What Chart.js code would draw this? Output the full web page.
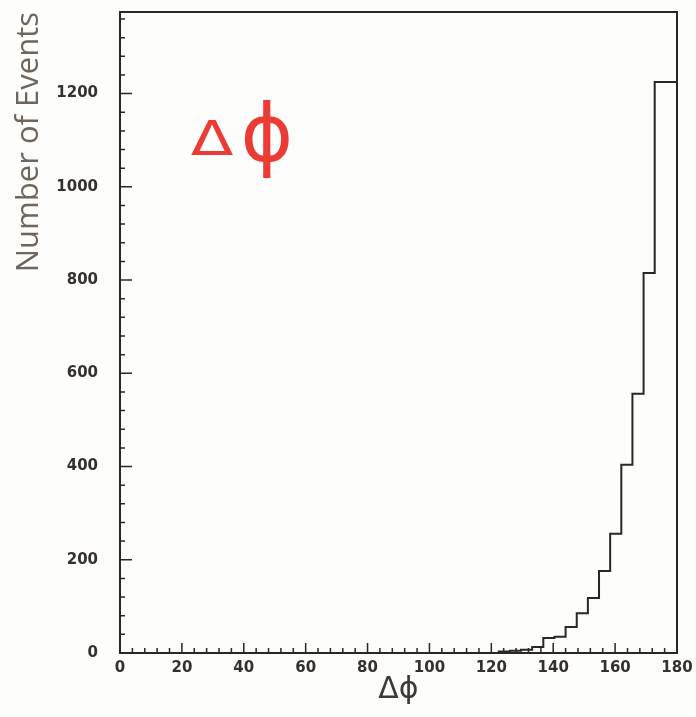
<!DOCTYPE html>
<html>
<head>
<meta charset="utf-8">
<script src="https://cdn.jsdelivr.net/npm/chart.js@4"></script>
<style>
  body { margin: 0; background: #fdfdfb; }
  #wrap { width: 696px; height: 717px; position: relative; }
</style>
</head>
<body>
<div id="wrap"><canvas id="histo"></canvas></div>
<script>
// histogram of delta phi, 50 bins of 3.6 degrees from 0 to 180
var binWidth = 3.6;
var counts = [
    0, 0, 0, 0, 0, 0, 0, 0, 0, 0,
    0, 0, 0, 0, 0, 0, 0, 0, 0, 0,
    0, 0, 0, 0, 0, 0, 0, 0, 0, 0,
    0, 0, 0, 0, 0, 3, 5, 7, 13, 32,
    35, 56, 85, 118, 176, 256, 404, 556, 815, 1225
];
var xTicks = [0, 20, 40, 60, 80, 100, 120, 140, 160, 180];
var yTicks = [0, 200, 400, 600, 800, 1000, 1200];

var ink = '#2b2620';

// step outline points: left edge of each bin, then close at 180
var steps = counts.map(function (c, i) {
    return { x: +(i * binWidth).toFixed(1), y: c };
});
steps.push({ x: 180, y: counts[counts.length - 1] });
steps.push({ x: 180, y: 0 });

// frame, inward major/minor ticks and the red note
var frameTicks = {
    id: 'frameTicks',
    afterDraw: function (chart) {
        var c = chart.ctx, a = chart.chartArea;
        var xs = chart.scales.x, ys = chart.scales.y;
        c.save();
        c.strokeStyle = ink;
        c.lineWidth = 2;
        c.strokeRect(a.left, a.top, a.right - a.left, a.bottom - a.top);
        c.lineWidth = 1.5;
        c.beginPath();
        for (var v = 4; v < 180; v += 4) {
            var px = xs.getPixelForValue(v);
            var len = v % 20 === 0 ? 10 : 5;
            c.moveTo(px, a.bottom);
            c.lineTo(px, a.bottom - len);
        }
        for (var w = 40; w < ys.max; w += 40) {
            var py = ys.getPixelForValue(w);
            var l2 = w % 200 === 0 ? 12 : 5;
            c.moveTo(a.left, py);
            c.lineTo(a.left + l2, py);
        }
        c.stroke();

        c.fillStyle = '#ec3a35';
        c.textBaseline = 'middle';
        c.textAlign = 'center';
        c.save();
        c.translate(212, 143);
        c.scale(1.3, 1);
        c.font = '48px "DejaVu Sans"';
        c.fillText('\u0394', 0, 0);
        c.restore();
        c.font = '80px "DejaVu Sans"';
        c.fillText('\u03d5', 267, 140);
        c.restore();
    }
};

var histo = new Chart(document.getElementById('histo').getContext('2d'), {
    type: 'line',
    data: {
        datasets: [{
            label: 'Events',
            data: steps,
            stepped: 'after',
            borderColor: ink,
            borderWidth: 2,
            pointRadius: 0,
            fill: false
        }]
    },
    options: {
        responsive: true,
        maintainAspectRatio: false,
        animation: false,
        layout: { padding: { top: 12, right: 19, left: 0, bottom: 0 } },
        plugins: { legend: { display: false }, tooltip: { enabled: false } },
        scales: {
            x: {
                type: 'linear',
                min: 0,
                max: 180,
                afterFit: function (s) {
                    s.height = 64;
                    s.paddingLeft = 0;
                    s.paddingRight = 0;
                },
                afterBuildTicks: function (s) {
                    s.ticks = xTicks.map(function (v) { return { value: v }; });
                },
                grid: { display: false, drawTicks: false },
                border: { display: false },
                ticks: {
                    padding: 6,
                    color: '#35302a',
                    callback: function (v) { return String(v); },
                    font: { family: '"DejaVu Sans"', size: 15, weight: 'bold' }
                },
                title: {
                    display: true,
                    text: '\u0394\u03d5',
                    color: '#3d3934',
                    padding: { top: 0, bottom: 9 },
                    font: { family: '"DejaVu Sans"', size: 30 }
                }
            },
            y: {
                min: 0,
                max: 1375,
                afterFit: function (s) {
                    s.width = 120;
                    s.paddingTop = 0;
                    s.paddingBottom = 0;
                },
                afterBuildTicks: function (s) {
                    s.ticks = yTicks.map(function (v) { return { value: v }; });
                },
                grid: { display: false, drawTicks: false },
                border: { display: false },
                ticks: {
                    padding: 22,
                    color: '#35302a',
                    callback: function (v) { return String(v); },
                    font: { family: '"DejaVu Sans"', size: 15, weight: 'bold' }
                },
                title: {
                    display: true,
                    text: 'Number of Events',
                    align: 'end',
                    color: '#6e665c',
                    padding: { top: 11, bottom: 0 },
                    font: { family: '"Open Sans"', size: 31 }
                }
            }
        }
    },
    plugins: [frameTicks]
});
</script>
</body>
</html>
